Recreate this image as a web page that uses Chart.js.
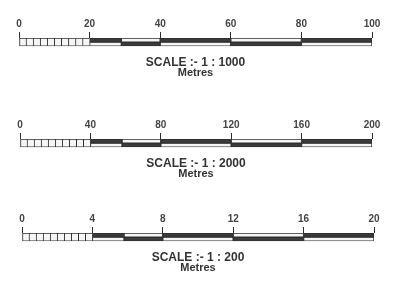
<!DOCTYPE html>
<html>
<head>
<meta charset="utf-8">
<script src="https://cdn.jsdelivr.net/npm/chart.js@4/dist/chart.umd.min.js"></script>
<style>
  body { margin: 0; background: #fff; }
  .panel { position: absolute; left: 0; width: 398px; height: 77px; }
</style>
</head>
<body>
<div class="panel" style="top:0px"><canvas id="scale1" width="398" height="77"></canvas></div>
<div class="panel" style="top:101px"><canvas id="scale2" width="398" height="77"></canvas></div>
<div class="panel" style="top:195px"><canvas id="scale3" width="398" height="77"></canvas></div>
<script>
// tick labels above each bar
const ticks1000 = [0, 20, 40, 60, 80, 100];
const ticks2000 = [0, 40, 80, 120, 160, 200];
const ticks200 = [0, 4, 8, 12, 16, 20];

// small divisions in the first interval
const fine1000 = [0, 2, 4, 6, 8, 10, 12, 14, 16, 18, 20];
const fine2000 = [0, 4, 8, 12, 16, 20, 24, 28, 32, 36, 40];
const fine200 = [0, 0.4, 0.8, 1.2, 1.6, 2, 2.4, 2.8, 3.2, 3.6, 4];

// edges of the alternating blocks
const blocks1000 = [20, 29, 40, 60, 80, 100];
const blocks2000 = [40, 58, 80, 120, 160, 200];
const blocks200 = [4, 5.8, 8, 12, 16, 20];

const scaleTitles = ['SCALE :- 1 : 1000', 'SCALE :- 1 : 2000', 'SCALE :- 1 : 200'];
const unitLabel = 'Metres';

const DARK = '#3b3b3b';
const LIGHT = '#f6f6f6';
const INK = '#2e2e2e';

function makeScale(id, ticks, fine, blocks, title, padLeft, padRight) {
    let topRow = [];
    let bottomRow = [];
    let topColors = [];
    let bottomColors = [];
    let topBorders = [];
    let bottomBorders = [];

    // first interval: small open cells running the full height
    for (let i = 0; i < fine.length - 1; i++) {
        topRow.push({ x: [fine[i], fine[i + 1]], y: 'top' });
        bottomRow.push({ x: [fine[i], fine[i + 1]], y: 'bottom' });
        topColors.push(LIGHT);
        bottomColors.push(LIGHT);
        topBorders.push({ top: 1, left: 1, right: 0, bottom: 0 });
        bottomBorders.push({ top: 0, left: 1, right: 0, bottom: 1 });
    }
    for (let i = 0; i < blocks.length - 1; i++) {
        topRow.push({ x: [blocks[i], blocks[i + 1]], y: 'top' });
        bottomRow.push({ x: [blocks[i], blocks[i + 1]], y: 'bottom' });
        topColors.push(i % 2 == 0 ? DARK : LIGHT);
        bottomColors.push(i % 2 == 0 ? LIGHT : DARK);
        topBorders.push(1);
        bottomBorders.push(1);
    }

    return new Chart(document.getElementById(id), {
        type: 'bar',
        data: {
            labels: ['top', 'bottom'],
            datasets: [
                {
                    data: topRow,
                    backgroundColor: topColors,
                    borderColor: INK,
                    borderWidth: topBorders,
                    borderSkipped: false,
                    grouped: false,
                    barPercentage: 1,
                    categoryPercentage: 1
                },
                {
                    data: bottomRow,
                    backgroundColor: bottomColors,
                    borderColor: INK,
                    borderWidth: bottomBorders,
                    borderSkipped: false,
                    grouped: false,
                    barPercentage: 1,
                    categoryPercentage: 1
                }
            ]
        },
        options: {
            indexAxis: 'y',
            responsive: false,
            animation: false,
            layout: {
                padding: { left: padLeft, right: padRight, top: 16, bottom: 0 }
            },
            scales: {
                x: {
                    type: 'linear',
                    position: 'top',
                    min: ticks[0],
                    max: ticks[ticks.length - 1],
                    afterBuildTicks: (axis) => {
                        axis.ticks = ticks.map(v => ({ value: v }));
                    },
                    grid: {
                        drawOnChartArea: false,
                        drawTicks: true,
                        tickLength: 6,
                        color: INK,
                        lineWidth: 1
                    },
                    border: { display: false },
                    ticks: {
                        padding: 2,
                        color: '#444',
                        font: { family: 'Liberation Sans', size: 10, weight: 'bold' }
                    }
                },
                y: {
                    display: false
                }
            },
            plugins: {
                legend: { display: false },
                tooltip: { enabled: false },
                subtitle: {
                    display: true,
                    position: 'bottom',
                    fullSize: false,
                    text: title,
                    color: '#333',
                    font: { family: 'Liberation Sans', size: 12, weight: 'bold', lineHeight: 1 },
                    padding: { top: 10, bottom: 0 }
                },
                title: {
                    display: true,
                    position: 'bottom',
                    fullSize: false,
                    text: unitLabel,
                    color: '#333',
                    font: { family: 'Liberation Sans', size: 11, weight: 'bold', lineHeight: 0.8 },
                    padding: { top: 0, bottom: 0 }
                }
            }
        }
    });
}

makeScale('scale1', ticks1000, fine1000, blocks1000, scaleTitles[0], 19, 26);
makeScale('scale2', ticks2000, fine2000, blocks2000, scaleTitles[1], 20, 26);
makeScale('scale3', ticks200, fine200, blocks200, scaleTitles[2], 22, 24);
</script>
</body>
</html>
